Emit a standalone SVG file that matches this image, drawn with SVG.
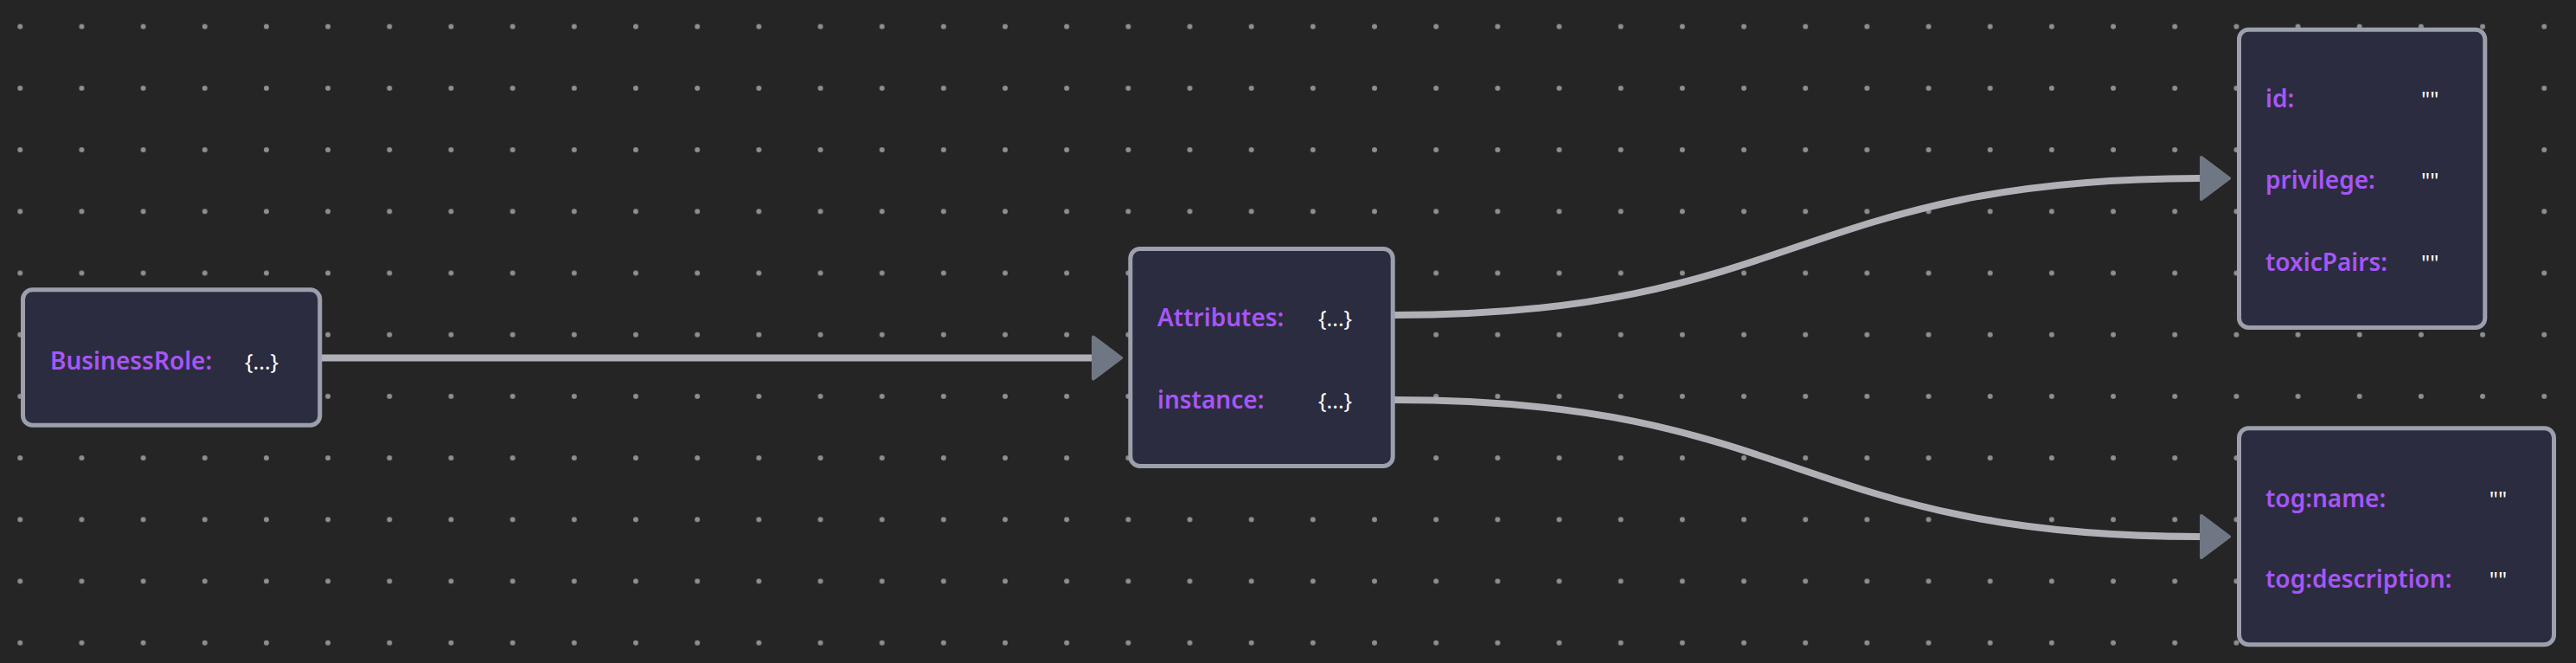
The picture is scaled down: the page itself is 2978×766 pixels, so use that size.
<svg xmlns="http://www.w3.org/2000/svg" width="2978" height="766" viewBox="0 0 2978 766">
<style>
.box{fill:#2b2c3f;stroke:#9ca0ad;stroke-width:5}
.k{font-family:"Noto Sans","Open Sans","Liberation Sans",sans-serif;font-size:28px;font-weight:600;fill:#a855f7}
.v{font-family:"Noto Sans","Open Sans","Liberation Sans",sans-serif;font-size:25px;font-weight:400;fill:#ffffff}
.edge{fill:none;stroke:#b0b0b7;stroke-width:8}
</style>
<defs>
<pattern id="dots" patternUnits="userSpaceOnUse" x="-12.3" y="-4.9" width="71.17" height="71.2">
<circle cx="35.585" cy="35.6" r="3" fill="#8e8e93"/>
</pattern>
<marker id="arr" markerUnits="userSpaceOnUse" viewBox="0 0 36 54" markerWidth="36" markerHeight="54" refX="2" refY="27" orient="auto">
<path d="M2,3 L34,27 L2,51 Z" fill="#707784" stroke="#707784" stroke-width="4" stroke-linejoin="round"/>
</marker>
</defs>
<rect width="2978" height="766" fill="#252525"/>
<rect width="2978" height="766" fill="url(#dots)"/>
<g id="connectors">
<path class="edge" d="M372,413.5 L1264,413.5" marker-end="url(#arr)"/>
<path class="edge" d="M1612,364 C2078,364 2078,206 2545,206" marker-end="url(#arr)"/>
<path class="edge" d="M1612,462 C2078,462 2078,620 2545,620" marker-end="url(#arr)"/>
</g>
<g id="node-businessrole">
<rect class="box" x="26.5" y="334.8" width="343.3" height="156.4" rx="11"/>
<text class="k" x="58" y="426.5">BusinessRole:</text>
<text class="v" x="283" y="426.5">{...}</text>
</g>
<g id="node-attributes-instance">
<rect class="box" x="1306.8" y="287.5" width="303.4" height="251" rx="11"/>
<text class="k" x="1338" y="377.3">Attributes:</text>
<text class="v" x="1524" y="377.3">{...}</text>
<text class="k" x="1338" y="472.3">instance:</text>
<text class="v" x="1524" y="472.3">{...}</text>
</g>
<g id="node-attributes">
<rect class="box" x="2588.5" y="34.2" width="284.3" height="344.3" rx="11"/>
<text class="k" x="2619" y="124">id:</text>
<text class="v" x="2799" y="124">""</text>
<text class="k" x="2619" y="218.3">privilege:</text>
<text class="v" x="2799" y="218.3">""</text>
<text class="k" x="2619" y="313.3">toxicPairs:</text>
<text class="v" x="2799" y="313.3">""</text>
</g>
<g id="node-instance">
<rect class="box" x="2588.5" y="494.8" width="364" height="250" rx="11"/>
<text class="k" x="2619" y="585.7">tog:name:</text>
<text class="v" x="2877.7" y="585.7">""</text>
<text class="k" x="2619" y="679">tog:description:</text>
<text class="v" x="2877.7" y="679">""</text>
</g>
</svg>
